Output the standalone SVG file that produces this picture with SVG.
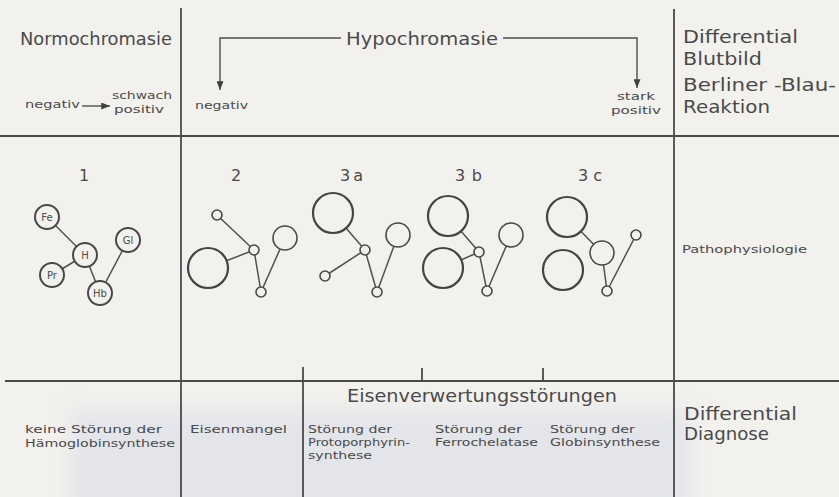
<svg xmlns="http://www.w3.org/2000/svg" width="839" height="497" viewBox="0 0 839 497">
  <defs>
    <style>
      .t{font-family:"DejaVu Sans","Liberation Sans",sans-serif;fill:#4a4a4a}
      .big{font-size:17px}
      .num{font-size:16px}
      .sm{font-size:11px}
      .lab{font-size:10px;text-anchor:middle}
      .grid{stroke:#4a4a4a;stroke-width:1.8;fill:none}
      .ln{stroke:#4f4f4f;stroke-width:1.4;fill:none}
      .bond{stroke:#505050;stroke-width:1.5;fill:none}
      .c{fill:#f3f1ee;stroke:#484848;stroke-width:1.6}
      .c1{fill:#f3f1ee;stroke:#484848;stroke-width:2}
      .cb{fill:#f3f1ee;stroke:#444;stroke-width:2.2}
    </style>
    <marker id="ah" viewBox="0 0 10 8" refX="10" refY="4" markerWidth="9" markerHeight="7" orient="auto" markerUnits="userSpaceOnUse">
      <path d="M0,0 L10,4 L0,8 z" fill="#404040"/>
    </marker>
    <filter id="soft" x="-20%" y="-50%" width="140%" height="200%">
      <feGaussianBlur stdDeviation="10"/>
    </filter>
  </defs>

  <!-- paper -->
  <rect width="839" height="497" fill="#f3f1ee"/>
  <rect x="70" y="410" width="620" height="110" fill="#dde1e9" opacity="0.7" filter="url(#soft)"/>

  <!-- table rules -->
  <g id="table">
    <line class="grid" x1="181" y1="8" x2="181" y2="497"/>
    <line class="grid" x1="674" y1="9" x2="674" y2="497"/>
    <line class="grid" x1="0" y1="136" x2="839" y2="136"/>
    <line class="grid" x1="5" y1="381" x2="839" y2="381"/>
    <line class="grid" x1="303" y1="367" x2="303" y2="497"/>
    <line class="grid" x1="422" y1="368" x2="422" y2="381" stroke-width="1.3"/>
    <line class="grid" x1="543" y1="368" x2="543" y2="381" stroke-width="1.3"/>
  </g>

  <!-- header row -->
  <g id="normochromasie">
    <text class="t big" x="20" y="45" textLength="152" lengthAdjust="spacingAndGlyphs">Normochromasie</text>
    <text class="t sm" x="25" y="108" textLength="55" lengthAdjust="spacingAndGlyphs">negativ</text>
    <line class="ln" x1="82" y1="106" x2="110" y2="106" marker-end="url(#ah)"/>
    <text class="t sm" x="112" y="99" textLength="60" lengthAdjust="spacingAndGlyphs">schwach</text>
    <text class="t sm" x="114" y="113" textLength="50" lengthAdjust="spacingAndGlyphs">positiv</text>
  </g>

  <g id="hypochromasie">
    <text class="t big" x="346" y="45" textLength="152" lengthAdjust="spacingAndGlyphs">Hypochromasie</text>
    <path class="ln" d="M341,38 H220 V90" marker-end="url(#ah)"/>
    <path class="ln" d="M503,38 H637 V88" marker-end="url(#ah)"/>
    <text class="t sm" x="195" y="109" textLength="53" lengthAdjust="spacingAndGlyphs">negativ</text>
    <text class="t sm" x="617" y="100" textLength="38" lengthAdjust="spacingAndGlyphs">stark</text>
    <text class="t sm" x="611" y="114" textLength="50" lengthAdjust="spacingAndGlyphs">positiv</text>
  </g>

  <g id="row-labels-top">
    <text class="t big" x="683" y="43" textLength="115" lengthAdjust="spacingAndGlyphs">Differential</text>
    <text class="t big" x="683" y="65" textLength="79" lengthAdjust="spacingAndGlyphs">Blutbild</text>
    <text class="t big" x="683" y="91" textLength="153" lengthAdjust="spacingAndGlyphs">Berliner -Blau-</text>
    <text class="t big" x="683" y="113" textLength="87" lengthAdjust="spacingAndGlyphs">Reaktion</text>
  </g>

  <!-- case numbers -->
  <g id="case-numbers">
    <text class="t num" x="84" y="181" text-anchor="middle">1</text>
    <text class="t num" x="236" y="181" text-anchor="middle">2</text>
    <text class="t num" x="340" y="181" textLength="23" lengthAdjust="spacing">3a</text>
    <text class="t num" x="455" y="181" textLength="27" lengthAdjust="spacing">3b</text>
    <text class="t num" x="578" y="181" textLength="24" lengthAdjust="spacing">3c</text>
  </g>

  <!-- case 1: normal haemoglobin synthesis -->
  <g id="case1">
    <g id="case1-connectors">
      <line class="bond" x1="47" y1="217" x2="85" y2="255"/>
      <line class="bond" x1="52" y1="275" x2="85" y2="255"/>
      <line class="bond" x1="85" y1="255" x2="100" y2="293"/>
      <line class="bond" x1="128" y1="240" x2="100" y2="293"/>
    </g>
    <g id="c1-fe"><circle class="c1" cx="47" cy="217" r="12"/><text class="t lab" x="47" y="221">Fe</text></g>
    <g id="c1-h"><circle class="c1" cx="85" cy="255" r="12"/><text class="t lab" x="85" y="259">H</text></g>
    <g id="c1-pr"><circle class="c1" cx="52" cy="275" r="12"/><text class="t lab" x="52" y="279">Pr</text></g>
    <g id="c1-gl"><circle class="c1" cx="128" cy="240" r="12"/><text class="t lab" x="128" y="244">Gl</text></g>
    <g id="c1-hb"><circle class="c1" cx="100" cy="293" r="12"/><text class="t lab" x="100" y="297">Hb</text></g>
  </g>

  <!-- case 2 -->
  <g id="case2">
    <g id="case2-connectors">
      <line class="bond" x1="217" y1="215" x2="254" y2="250"/>
      <line class="bond" x1="208" y1="268" x2="254" y2="250"/>
      <line class="bond" x1="254" y1="250" x2="261" y2="292"/>
      <line class="bond" x1="261" y1="292" x2="285" y2="238"/>
    </g>
    <g id="c2-fe"><circle class="c" cx="217" cy="215" r="5"/></g>
    <g id="c2-pr"><circle class="cb" cx="208" cy="268" r="20"/></g>
    <g id="c2-h"><circle class="c" cx="254" cy="250" r="5"/></g>
    <g id="c2-gl"><circle class="c" cx="285" cy="238" r="12"/></g>
    <g id="c2-hb"><circle class="c" cx="261" cy="292" r="5"/></g>
  </g>

  <!-- case 3a -->
  <g id="case3a">
    <g id="case3a-connectors">
      <line class="bond" x1="333" y1="213" x2="365" y2="250"/>
      <line class="bond" x1="325" y1="276" x2="365" y2="250"/>
      <line class="bond" x1="365" y1="250" x2="377" y2="292"/>
      <line class="bond" x1="377" y1="292" x2="398" y2="235"/>
    </g>
    <g id="c3a-fe"><circle class="cb" cx="333" cy="213" r="20"/></g>
    <g id="c3a-pr"><circle class="c" cx="325" cy="276" r="5"/></g>
    <g id="c3a-h"><circle class="c" cx="365" cy="250" r="5"/></g>
    <g id="c3a-gl"><circle class="c" cx="398" cy="235" r="12"/></g>
    <g id="c3a-hb"><circle class="c" cx="377" cy="292" r="5"/></g>
  </g>

  <!-- case 3b -->
  <g id="case3b">
    <g id="case3b-connectors">
      <line class="bond" x1="448" y1="216" x2="479" y2="252"/>
      <line class="bond" x1="443" y1="268" x2="479" y2="252"/>
      <line class="bond" x1="479" y1="252" x2="487" y2="291"/>
      <line class="bond" x1="487" y1="291" x2="511" y2="235"/>
    </g>
    <g id="c3b-fe"><circle class="cb" cx="448" cy="216" r="20"/></g>
    <g id="c3b-pr"><circle class="cb" cx="443" cy="268" r="20"/></g>
    <g id="c3b-h"><circle class="c" cx="479" cy="252" r="5"/></g>
    <g id="c3b-gl"><circle class="c" cx="511" cy="235" r="12"/></g>
    <g id="c3b-hb"><circle class="c" cx="487" cy="291" r="5"/></g>
  </g>

  <!-- case 3c -->
  <g id="case3c">
    <g id="case3c-connectors">
      <line class="bond" x1="567" y1="217" x2="602" y2="253"/>
      <line class="bond" x1="602" y1="253" x2="607" y2="291"/>
      <line class="bond" x1="607" y1="291" x2="636" y2="235"/>
    </g>
    <g id="c3c-fe"><circle class="cb" cx="567" cy="217" r="20"/></g>
    <g id="c3c-pr"><circle class="cb" cx="563" cy="270" r="20"/></g>
    <g id="c3c-h"><circle class="c" cx="602" cy="253" r="12"/></g>
    <g id="c3c-gl"><circle class="c" cx="636" cy="235" r="5"/></g>
    <g id="c3c-hb"><circle class="c" cx="607" cy="291" r="5"/></g>
  </g>

  <g id="row-label-middle">
    <text class="t sm" x="682" y="253" textLength="125" lengthAdjust="spacingAndGlyphs">Pathophysiologie</text>
  </g>

  <!-- diagnosis row -->
  <g id="diag-normal">
    <text class="t sm" x="25" y="433" textLength="137" lengthAdjust="spacingAndGlyphs">keine Störung der</text>
    <text class="t sm" x="25" y="447" textLength="150" lengthAdjust="spacingAndGlyphs">Hämoglobinsynthese</text>
  </g>
  <g id="diag-eisenmangel">
    <text class="t sm" x="190" y="433" textLength="97" lengthAdjust="spacingAndGlyphs">Eisenmangel</text>
  </g>
  <g id="diag-eisenverwertung">
    <text class="t big" x="347" y="402" textLength="270" lengthAdjust="spacingAndGlyphs">Eisenverwertungsstörungen</text>
  </g>
  <g id="diag-protoporphyrin">
    <text class="t sm" x="308" y="433" textLength="84" lengthAdjust="spacingAndGlyphs">Störung der</text>
    <text class="t sm" x="308" y="446" textLength="102" lengthAdjust="spacingAndGlyphs">Protoporphyrin-</text>
    <text class="t sm" x="308" y="459" textLength="64" lengthAdjust="spacingAndGlyphs">synthese</text>
  </g>
  <g id="diag-ferrochelatase">
    <text class="t sm" x="435" y="433" textLength="87" lengthAdjust="spacingAndGlyphs">Störung der</text>
    <text class="t sm" x="435" y="446" textLength="103" lengthAdjust="spacingAndGlyphs">Ferrochelatase</text>
  </g>
  <g id="diag-globin">
    <text class="t sm" x="550" y="433" textLength="85" lengthAdjust="spacingAndGlyphs">Störung der</text>
    <text class="t sm" x="550" y="446" textLength="110" lengthAdjust="spacingAndGlyphs">Globinsynthese</text>
  </g>
  <g id="row-label-bottom">
    <text class="t big" x="684" y="420" textLength="113" lengthAdjust="spacingAndGlyphs">Differential</text>
    <text class="t big" x="684" y="440" textLength="85" lengthAdjust="spacingAndGlyphs">Diagnose</text>
  </g>
</svg>
